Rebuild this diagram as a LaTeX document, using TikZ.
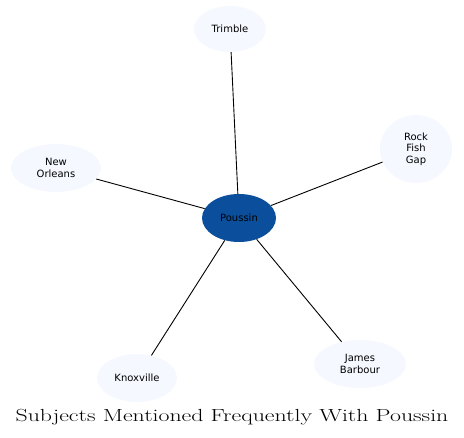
\documentclass[tikz,border=0pt]{standalone}
\usepackage{fontspec}
\newfontfamily\nodefont{DejaVu Sans}
\usetikzlibrary{shapes.geometric}
\definecolor{leaf}{HTML}{F5F8FE}
\definecolor{hub}{HTML}{0B4F9C}
\tikzset{
  leafnode/.style={ellipse, fill=leaf, draw=none, inner sep=0pt, align=center, font=\nodefont\fontsize{10}{11.5}\selectfont},
  hubnode/.style={ellipse, fill=hub, draw=none, inner sep=0pt, align=center, font=\nodefont\fontsize{10}{11.5}\selectfont, text=black},
  edge/.style={draw=black, line width=0.9pt}
}
\begin{document}
\begin{tikzpicture}[x=1pt,y=-1pt]
\useasboundingbox (0,0) rectangle (464,438);
\node[hubnode, minimum width=74pt, minimum height=48pt] (poussin) at (239,218) {Poussin};
\node[leafnode, minimum width=72pt, minimum height=46pt] (trimble) at (230,29) {Trimble};
\node[leafnode, minimum width=72pt, minimum height=68pt] (rock) at (416,149) {Rock\\Fish\\Gap};
\node[leafnode, minimum width=90pt, minimum height=48pt] (neworleans) at (56,168) {New\\Orleans};
\node[leafnode, minimum width=80pt, minimum height=48pt] (knox) at (137,378) {Knoxville};
\node[leafnode, minimum width=92pt, minimum height=48pt] (james) at (360,364) {James\\Barbour};
\draw[edge] (poussin) -- (trimble);
\draw[edge] (poussin) -- (rock);
\draw[edge] (poussin) -- (neworleans);
\draw[edge] (poussin) -- (knox);
\draw[edge] (poussin) -- (james);
\node[inner sep=0pt, anchor=base] (title) at (232,422) {\scalebox{1.36}[1]{\fontsize{17.5}{20}\selectfont Subjects Mentioned Frequently With Poussin}};
\end{tikzpicture}
\end{document}
